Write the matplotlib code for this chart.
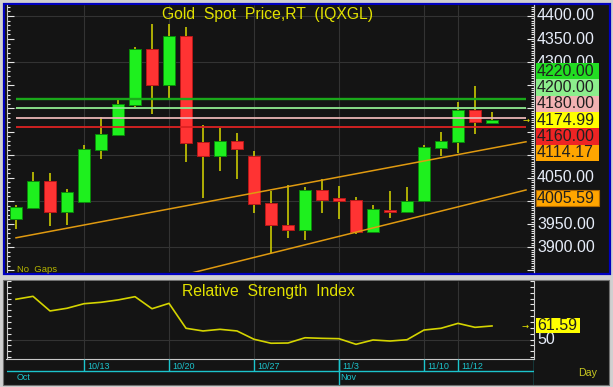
import matplotlib
matplotlib.use("Agg")
import matplotlib.pyplot as plt
from matplotlib.patches import Rectangle
from matplotlib.transforms import IdentityTransform
from matplotlib.ticker import MultipleLocator
import numpy as np

# daily candles, gold spot
opens = [3960, 3984, 4043, 3976, 3997, 4111, 4143, 4208, 4329, 4251, 4357, 4127, 4098, 4130, 4098,
         3995, 3948, 3938, 4023, 4006, 4003, 3934, 3981, 3976, 3999, 4115, 4127, 4197, 4168]
highs = [3991, 4062, 4061, 4025, 4120, 4181, 4220, 4332, 4383, 4383, 4377, 4165, 4158, 4147, 4109,
         4021, 4034, 4030, 4047, 4032, 4008, 3992, 4022, 4030, 4120, 4149, 4215, 4248, 4193]
lows = [3939, 3982, 3945, 3947, 3996, 4091, 4140, 4203, 4188, 4221, 4085, 4006, 4065, 4047, 3973,
        3887, 3919, 3916, 3973, 3962, 3928, 3932, 3964, 3975, 3998, 4097, 4103, 4145, 4168]
closes = [3988, 4043, 3976, 4020, 4112, 4145, 4210, 4329, 4251, 4357, 4126, 4098, 4130, 4113, 3993,
          3948, 3938, 4023, 4003, 4001, 3934, 3983, 3977, 4001, 4117, 4130, 4197, 4170, 4174.99]

rsi = [84.4, 86.9, 74.4, 76.7, 80.6, 81.8, 83.8, 86.6, 76.3, 80.9, 59.6, 57.3, 58.7, 57.3, 50.2,
       46.8, 47.0, 51.5, 51.0, 50.7, 45.9, 49.6, 48.7, 49.8, 58.1, 59.6, 63.8, 60.4, 61.59]

date_pos = [4, 9, 14, 19, 24, 26]
date_labels = ["10/13", "10/20", "10/27", "11/3", "11/10", "11/12"]
month_pos = [0, 19]
month_labels = ["Oct", "Nov"]

levels = [4220.00, 4200.00, 4180.00, 4160.00]
level_colors = ["#1aa81a", "#8ee88e", "#e8b4b4", "#dd2222"]
upper_x, upper_y = [0, 30], [3920.4, 4128.0]
lower_x, lower_y = [10, 30], [3841.4, 4023.8]

# scale labels that are not hidden behind the value tags
price_labels = [4400, 4350, 4300, 4100, 4050, 3950, 3900]
stack_vals = [4220.00, 4200.00, 4180.00, 4174.99, 4160.00, 4114.17]
stack_colors = ["#22dd22", "#8cee8c", "#f2b2b2", "#ffff00", "#ee2424", "#ffa500"]
lower_val = 4005.59

W, H = 613, 387
BG = "#141414"
GRID = "#333333"
CYAN = "#1cc4cc"
YEL = "#e2e200"

fig = plt.figure(figsize=(W / 100, H / 100), dpi=100, facecolor="#d0d0d0")


def rect(x0, y0, x1, y1):
    return [x0 / W, 1 - y1 / H, (x1 - x0) / W, (y1 - y0) / H]


# panel backgrounds
fig.add_artist(Rectangle((3.5 / W, 1 - 274 / H), 606 / W, 270.5 / H, transform=fig.transFigure,
                         fc=BG, ec="#0000c0", lw=1.6, zorder=-5))
fig.add_artist(Rectangle((3 / W, 1 - 384.5 / H), 605.5 / W, 104.5 / H, transform=fig.transFigure,
                         fc=BG, ec="#707070", lw=0.8, zorder=-5))

xl = (-0.559, 30.47)

# ---- price panel
ax = fig.add_axes(rect(6.5, 4.7, 534, 272.3))
ax.set_facecolor(BG)
ax.set_xlim(*xl)
ax.set_ylim(3845.8, 4424.4)
for s in ["top", "bottom"]:
    ax.spines[s].set_visible(False)
for s in ["left", "right"]:
    ax.spines[s].set_color("#c8c8c8")
ax.set_xticks([])
ax.yaxis.set_major_locator(MultipleLocator(50))
ax.yaxis.set_minor_locator(MultipleLocator(10))
ax.tick_params(axis="y", which="both", direction="in", left=True, right=False,
               labelleft=False, colors="#e8e8e8", width=0.8)
ax.tick_params(axis="y", which="major", length=5)
ax.tick_params(axis="y", which="minor", length=2.5)
sec = ax.secondary_yaxis("right")
sec.spines["right"].set_color("#c8c8c8")
sec.yaxis.set_major_locator(MultipleLocator(50))
sec.yaxis.set_minor_locator(MultipleLocator(5))
sec.tick_params(axis="y", which="both", direction="in", labelright=False, colors="#e8e8e8", width=0.8)
sec.tick_params(axis="y", which="major", length=5)
sec.tick_params(axis="y", which="minor", length=2.5)

ax.hlines(np.arange(3900, 4401, 100), *xl, color=GRID, lw=0.8, zorder=0)
ax.vlines(date_pos, 3845.8, 4424.4, color=GRID, lw=0.8, zorder=0)

x = np.arange(len(opens))
o = np.array(opens, float)
c = np.array(closes, float)
up = c >= o
ax.vlines(x, lows, highs, color="#d8d800", lw=1.1, zorder=2)
ax.bar(x, np.abs(c - o), bottom=np.minimum(o, c), width=0.72,
       color=np.where(up, "#1ef01e", "#ff3333"), edgecolor=np.where(up, "#0a8a0a", "#b81818"),
       lw=0.7, zorder=3)

ax.hlines(levels, 0, 30, colors=level_colors, lw=[1.7, 1.3, 1.3, 1.3], zorder=4)
ax.plot(upper_x, upper_y, color="#e09a10", lw=1.1, zorder=4)
ax.plot(lower_x, lower_y, color="#e09a10", lw=1.1, zorder=4)

fig.text(267.5 / W, 1 - 14 / H, "Gold  Spot  Price,RT  (IQXGL)", ha="center", va="center",
         color=YEL, fontsize=11.3, family="Liberation Sans")
fig.text(17 / W, 1 - 269 / H, "No  Gaps", ha="left", va="center", color="#b4b400",
         fontsize=6.8, family="Liberation Sans")

ID = IdentityTransform()


def py(a, v):
    return a.transData.transform((0, v))[1]


def tag(x0, w, yc, h, s, fc, ec="none"):
    fig.add_artist(Rectangle((x0, yc - h / 2), w, h, transform=ID, fc=fc, ec=ec, lw=0.8, zorder=3))
    fig.text(x0 + 1.5, yc, s, transform=ID, ha="left", va="center", color="#202020",
             fontsize=11.5, family="Liberation Sans", zorder=4)


for p in price_labels:
    fig.text(537, py(ax, p), f"{p:.2f}", transform=ID, ha="left", va="center", color="#e6ecf8",
             fontsize=11.5, family="Liberation Sans", zorder=2)

last = stack_vals.index(closes[-1])
ylast = py(ax, closes[-1])
for k, (v, col) in enumerate(zip(stack_vals, stack_colors)):
    tag(535.5, 63, ylast + (last - k) * 16.3, 16.3, f"{v:.2f}", col)
tag(535.5, 63, py(ax, lower_val), 16, f"{lower_val:.2f}", "#ffa500", "#b06800")
fig.text(526, ylast, "\u2192", transform=ID, ha="center", va="center", color="#e8e800",
         fontsize=6, family="DejaVu Sans", zorder=4)

# ---- RSI panel
ax2 = fig.add_axes(rect(6.5, 281, 534, 359.3))
ax2.set_facecolor(BG)
ax2.set_xlim(*xl)
ax2.set_ylim(33.08, 100)
ax2.spines["top"].set_visible(False)
for s in ["left", "right", "bottom"]:
    ax2.spines[s].set_color("#c8c8c8")
ax2.set_xticks([])
ax2.yaxis.set_major_locator(MultipleLocator(5))
ax2.tick_params(axis="y", direction="in", left=True, right=True, labelleft=False,
                colors="#e8e8e8", length=3, width=0.8)
ax2.axhline(50, color=GRID, lw=0.8, zorder=0)
ax2.vlines(date_pos, 33.08, 100, color=GRID, lw=0.8, zorder=0)
ax2.plot(x, rsi, color="#d4d400", lw=1.2, zorder=3)

fig.text(268 / W, 1 - 291.7 / H, "Relative  Strength  Index", ha="center", va="center",
         color=YEL, fontsize=11.3, family="Liberation Sans")
fig.text(537, py(ax2, 50), "50", transform=ID, ha="left", va="center", color="#e6ecf8",
         fontsize=11.5, family="Liberation Sans", zorder=2)
yr = py(ax2, rsi[-1])
tag(536, 44, yr, 15, f"{rsi[-1]:.2f}", "#ffff00")
fig.text(525, yr, "\u2192", transform=ID, ha="center", va="center", color="#e8e800",
         fontsize=6, family="DejaVu Sans", zorder=4)

# ---- date axis
ax3 = fig.add_axes(rect(6.5, 359.3, 534, 385))
ax3.set_axis_off()
ax3.set_xlim(*xl)
ax3.set_ylim(385, 359.3)
ax3.hlines(370.7, *xl, color=CYAN, lw=1)
ax3.vlines(date_pos, 359.3, 370.7, color=CYAN, lw=1)
ax3.vlines(month_pos[1:], 359.3, 385, color=CYAN, lw=1)
ax3.vlines(xl[1] - 0.02, 359.3, 385, color=CYAN, lw=1)
for p, s in zip(date_pos, date_labels):
    ax3.text(p + 0.17, 366.2, s, color=CYAN, fontsize=6.5, va="center", ha="left",
             family="Liberation Sans")
for p, s in zip(month_pos, month_labels):
    ax3.text(p + 0.06, 378, s, color=CYAN, fontsize=6.5, va="center", ha="left",
             family="Liberation Sans")
fig.text(588 / W, 1 - 372.7 / H, "Day", ha="center", va="center", color="#c8c820",
         fontsize=7.7, family="Liberation Sans")

fig.savefig("out.png", dpi=100, facecolor=fig.get_facecolor())
